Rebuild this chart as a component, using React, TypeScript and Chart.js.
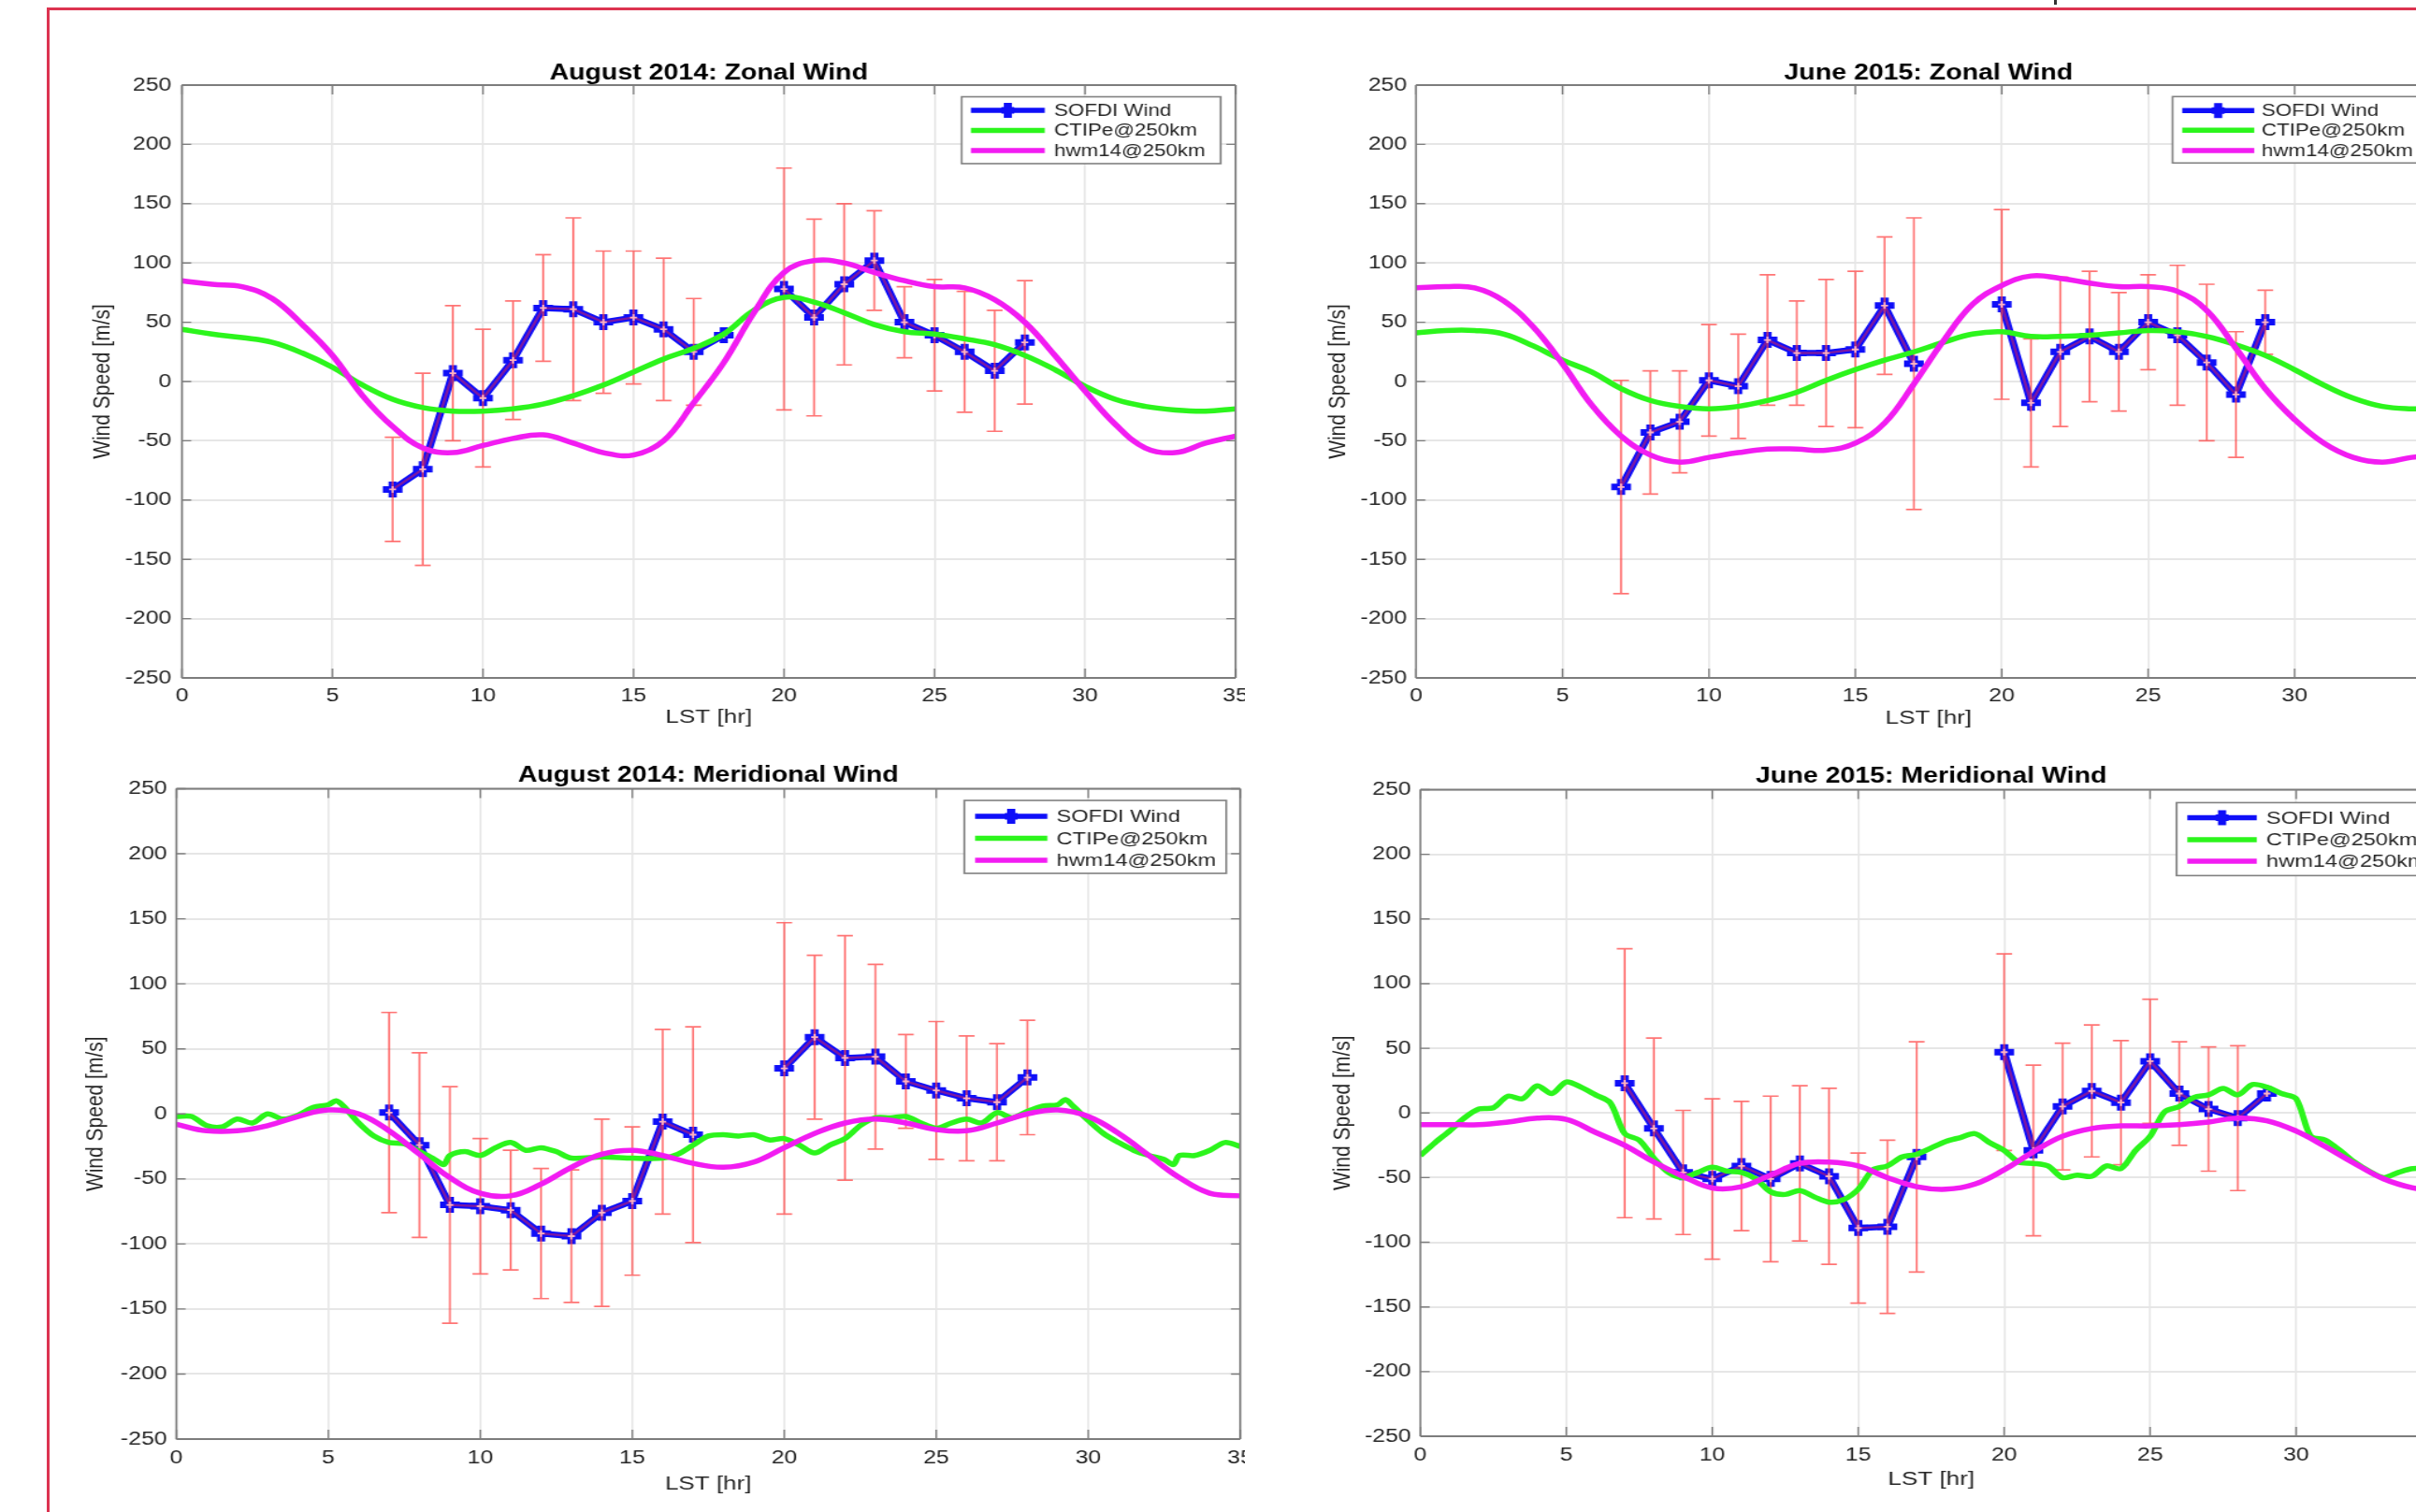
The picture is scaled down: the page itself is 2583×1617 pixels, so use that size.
import React, { useEffect, useRef } from 'react';
import { Chart, registerables } from 'chart.js';

Chart.register(...registerables);

// horizontal stretch of the original screenshot
const K = 1.24;
const FONT = "'Liberation Sans', Arial, Helvetica, sans-serif";
const BLUE = '#0f0ff8';
const GREEN = '#2cf51c';
const MAGENTA = '#f21cf2';
const ERR_COLOR = 'rgba(255,70,70,0.75)';
const GRID = '#e6e6e6';
const AXIS = '#7d7d7d';
const TEXT = '#262626';
const RED_FRAME = '#dc3350';

// ---------------- data ----------------
const HOURS = [0, 1, 2, 3, 4, 5, 6, 7, 8, 9, 10, 11, 12, 13, 14, 15, 16, 17, 18, 19, 20, 21, 22, 23, 24, 25, 26, 27, 28, 29, 30, 31, 32, 33, 34, 35];
const HALF_HOURS = [0, 0.5, 1, 1.5, 2, 2.5, 3, 3.5, 4, 4.5, 5, 5.5, 6, 6.5, 7, 7.5, 8, 8.5, 9, 9.5, 10, 10.5, 11, 11.5, 12, 12.5, 13, 13.5, 14, 14.5, 15, 15.5, 16, 16.5, 17, 17.5, 18, 18.5, 19, 19.5, 20, 20.5, 21, 21.5, 22, 22.5, 23, 23.5, 24, 24.5, 25, 25.5, 26, 26.5, 27, 27.5, 28, 28.5, 29, 29.5, 30, 30.5, 31, 31.5, 32, 32.5, 33, 33.5, 34, 34.5, 35];
const SOFDI_HOURS_AUG = [7, 8, 9, 10, 11, 12, 13, 14, 15, 16, 17, 18, 19, 20, 21, 22, 23, 24, 25, 26, 27, 28];
const SOFDI_HOURS_JUN = [7, 8, 9, 10, 11, 12, 13, 14, 15, 16, 17, 18, 19, 20, 21, 22, 23, 24, 25, 26, 27, 28, 29];

// August 2014: Zonal Wind
const AUG_ZONAL_SOFDI = [-91, -74, 7, -14, 18, 62, 61, 50, 54, 44, 25, 39, null, 78, 54, 82, 102, 50, 39, 25, 9, 33];
const AUG_ZONAL_ERR = [44, 81, 57, 58, 50, 45, 77, 60, 56, 60, 45, null, null, 102, 83, 68, 42, 30, 47, 51, 51, 52];
const AUG_ZONAL_CTIPE = [44, 40, 37, 33, 24, 12, -3, -15, -22, -25, -25, -23, -19, -12, -3, 8, 19, 28, 40, 60, 71, 67, 58, 48, 42, 40, 36, 31, 22, 10, -4, -15, -21, -24, -25, -23];
const AUG_ZONAL_HWM = [85, 82, 80, 70, 48, 22, -12, -38, -56, -60, -54, -48, -45, -52, -60, -62, -50, -18, 16, 58, 92, 102, 100, 92, 85, 80, 79, 69, 50, 22, -8, -36, -56, -60, -52, -46];

// June 2015: Zonal Wind
const JUN_ZONAL_SOFDI = [-89, -43, -34, 1, -4, 35, 24, 24, 27, 64, 15, null, null, 65, -18, 25, 38, 25, 50, 39, 16, -11, 50];
const JUN_ZONAL_ERR = [90, 52, 43, 47, 44, 55, 44, 62, 66, 58, 123, null, null, 80, 54, 63, 55, 50, 40, 59, 66, 53, 27];
const JUN_ZONAL_CTIPE = [41, 43, 43, 40, 30, 18, 8, -6, -16, -21, -23, -21, -16, -9, 1, 10, 18, 25, 33, 40, 42, 38, 38, 39, 41, 43, 42, 38, 31, 22, 10, -3, -14, -21, -23, -23];
const JUN_ZONAL_HWM = [79, 80, 79, 68, 46, 15, -20, -46, -62, -68, -64, -60, -57, -57, -58, -52, -35, -2, 34, 65, 81, 89, 87, 83, 80, 80, 76, 60, 28, -6, -32, -52, -64, -68, -64, -62];

// August 2014: Meridional Wind
const AUG_MERID_SOFDI = [1, -24, -70, -71, -74, -92, -94, -76, -67, -6, -16, null, null, 35, 59, 43, 44, 25, 18, 12, 9, 28];
const AUG_MERID_ERR = [77, 71, 91, 52, 46, 50, 51, 72, 57, 71, 83, null, null, 112, 63, 94, 71, 36, 53, 48, 45, 44];
const AUG_MERID_CTIPE_HOURS = [0, 0.5, 1, 1.5, 2, 2.5, 3, 3.5, 4, 4.5, 5, 5.25, 5.5, 6, 6.5, 7, 7.5, 8, 8.5, 8.8, 9, 9.5, 10, 10.5, 11, 11.5, 12, 12.5, 13, 14, 15, 16, 16.5, 17, 17.5, 18, 18.5, 19, 19.5, 20, 20.5, 21, 21.5, 22, 22.5, 23, 23.5, 24, 24.5, 25, 25.5, 26, 26.5, 27, 27.5, 28, 28.5, 29, 29.25, 29.5, 30, 30.5, 31, 31.5, 32, 32.5, 32.8, 33, 33.5, 34, 34.5, 35];
const AUG_MERID_CTIPE = [-2, -2, -9, -10, -4, -7, 0, -4, -1, 5, 7, 10, 6, -7, -17, -22, -23, -29, -35, -39, -32, -29, -32, -26, -22, -28, -26, -29, -34, -33, -34, -34, -31, -24, -17, -16, -17, -16, -20, -19, -24, -30, -24, -19, -9, -3, -3, -2, -7, -11, -7, -4, -7, 1, -3, 2, 6, 7, 11, 6, -5, -15, -22, -28, -32, -35, -39, -32, -32, -28, -22, -25];
const AUG_MERID_HWM = [-8, -13, -13, -9, -2, 3, 0, -13, -31, -49, -61, -63, -54, -41, -31, -28, -32, -38, -41, -37, -26, -15, -7, -4, -7, -12, -13, -7, 0, 3, -2, -15, -32, -49, -61, -63];

// June 2015: Meridional Wind
const JUN_MERID_SOFDI = [23, -12, -46, -51, -41, -51, -39, -49, -89, -88, -34, null, null, 47, -29, 5, 17, 8, 40, 15, 3, -4, 15];
const JUN_MERID_ERR = [104, 70, 48, 62, 50, 64, 60, 68, 58, 67, 89, null, null, 76, 66, 49, 51, 48, 48, 40, 48, 56, null];
const JUN_MERID_CTIPE = [-33, -23, -14, -4, 3, 4, 13, 11, 21, 15, 24, 20, 14, 8, -16, -21, -35, -46, -50, -46, -42, -45, -46, -51, -61, -63, -60, -65, -69, -67, -59, -44, -41, -34, -32, -27, -22, -19, -16, -23, -29, -38, -39, -41, -50, -48, -49, -41, -43, -29, -18, 1, 5, 12, 14, 19, 14, 22, 20, 15, 11, -18, -21, -29, -38, -45, -50, -46, -43, -44, -50];
const JUN_MERID_HWM = [-9, -9, -9, -7, -4, -5, -15, -25, -38, -49, -58, -57, -48, -39, -38, -41, -50, -57, -59, -55, -44, -30, -18, -12, -10, -10, -9, -7, -4, -6, -14, -26, -39, -51, -58, -61];

const X_TICKS_STEP = 5;
const Y_MIN = -250;
const Y_MAX = 250;
const Y_STEP = 50;
const X_MIN = 0;
const X_MAX = 35;

const LEGEND_LABELS = ['SOFDI Wind', 'CTIPe@250km', 'hwm14@250km'];

// ---------------- layout (page px) ----------------
type Num = number | null;
type PanelSpec = {
  id: string;
  title: string;
  sofdiX: number[]; sofdi: Num[]; err: Num[];
  ctipeX: number[]; ctipe: number[];
  hwmX: number[]; hwm: number[];
  clipL: number; clipW: number;
  L: number; T: number; W: number; H: number;
  area: { left: number; right: number; top: number; bottom: number }; // page coords
  titleGap: number; xTickPad: number; yTickPad: number; xTitleOff: number; yTitleOff: number;
  legend: { x: number; y: number; w: number; h: number; rows: number[]; s1: number; s2: number; tx: number; font: number };
  ctipeTension: number;
};

const PANELS: PanelSpec[] = [
  {
    id: 'tl', title: 'August 2014: Zonal Wind',
    sofdiX: SOFDI_HOURS_AUG, sofdi: AUG_ZONAL_SOFDI, err: AUG_ZONAL_ERR,
    ctipeX: HOURS, ctipe: AUG_ZONAL_CTIPE, hwmX: HOURS, hwm: AUG_ZONAL_HWM,
    clipL: 53, clipW: 1278, L: 60, T: 40, W: 1035, H: 760,
    area: { left: 194.5, right: 1324, top: 91, bottom: 725 },
    titleGap: 6, xTickPad: 7, yTickPad: 9, xTitleOff: 42, yTitleOff: 68,
    legend: { x: 1028, y: 103.5, w: 277, h: 71.5, rows: [118, 139.5, 161], s1: 1038, s2: 1117, tx: 1127, font: 18 },
    ctipeTension: 0.4,
  },
  {
    id: 'tr', title: 'June 2015: Zonal Wind',
    sofdiX: SOFDI_HOURS_JUN, sofdi: JUN_ZONAL_SOFDI, err: JUN_ZONAL_ERR,
    ctipeX: HOURS, ctipe: JUN_ZONAL_CTIPE, hwmX: HOURS, hwm: JUN_ZONAL_HWM,
    clipL: 1333, clipW: 1250, L: 1345, T: 40, W: 1038, H: 760,
    area: { left: 1514, right: 2610.6, top: 91, bottom: 725 },
    titleGap: 6, xTickPad: 7, yTickPad: 8, xTitleOff: 43, yTitleOff: 67,
    legend: { x: 2322.7, y: 103.3, w: 277, h: 71, rows: [118.3, 139.3, 161], s1: 2333, s2: 2410, tx: 2418, font: 18 },
    ctipeTension: 0.4,
  },
  {
    id: 'bl', title: 'August 2014: Meridional Wind',
    sofdiX: SOFDI_HOURS_AUG, sofdi: AUG_MERID_SOFDI, err: AUG_MERID_ERR,
    ctipeX: AUG_MERID_CTIPE_HOURS, ctipe: AUG_MERID_CTIPE, hwmX: HOURS, hwm: AUG_MERID_HWM,
    clipL: 53, clipW: 1278, L: 60, T: 790, W: 1040, H: 827,
    area: { left: 188.5, right: 1331, top: 843.5, bottom: 1539 },
    titleGap: 7.5, xTickPad: 8, yTickPad: 8, xTitleOff: 48, yTitleOff: 69,
    legend: { x: 1031, y: 856, w: 280, h: 78, rows: [873, 896.4, 920], s1: 1042.5, s2: 1119.7, tx: 1129.6, font: 19 },
    ctipeTension: 0.3,
  },
  {
    id: 'br', title: 'June 2015: Meridional Wind',
    sofdiX: SOFDI_HOURS_JUN, sofdi: JUN_MERID_SOFDI, err: JUN_MERID_ERR,
    ctipeX: HALF_HOURS, ctipe: JUN_MERID_CTIPE, hwmX: HOURS, hwm: JUN_MERID_HWM,
    clipL: 1333, clipW: 1250, L: 1345, T: 790, W: 1040, H: 827,
    area: { left: 1518.5, right: 2614, top: 844.5, bottom: 1536 },
    titleGap: 7.5, xTickPad: 8, yTickPad: 8, xTitleOff: 46, yTitleOff: 67,
    legend: { x: 2327, y: 858.4, w: 280, h: 78, rows: [874.5, 898, 921], s1: 2338.5, s2: 2412.8, tx: 2423, font: 19 },
    ctipeTension: 0.3,
  },
];

function WindPanel({ p }: { p: PanelSpec }) {
  const ref = useRef<HTMLCanvasElement>(null);

  useEffect(() => {
    const canvas = ref.current;
    if (!canvas) return;
    const cx = (px: number) => (px - p.L) / K;
    const cy = (py: number) => py - p.T;
    const toXY = (xs: number[], ys: Num[]) => xs.map((x, i) => ({ x, y: ys[i] }));

    const decor = {
      id: 'decor',
      afterDatasetDraw(chart: any, args: any) {
        if (args.index !== 2) return;
        const ctx = chart.ctx as CanvasRenderingContext2D;
        const xs = chart.scales.x;
        const ys = chart.scales.y;
        ctx.save();
        // error bars
        ctx.strokeStyle = ERR_COLOR;
        ctx.lineWidth = 1.7;
        const cap = 6.8;
        p.sofdiX.forEach((h, i) => {
          const v = p.sofdi[i];
          const e = p.err[i];
          if (v == null || e == null) return;
          const px = xs.getPixelForValue(h);
          const t = ys.getPixelForValue(v + e);
          const b = ys.getPixelForValue(v - e);
          ctx.beginPath();
          ctx.moveTo(px, t); ctx.lineTo(px, b);
          ctx.moveTo(px - cap, t); ctx.lineTo(px + cap, t);
          ctx.moveTo(px - cap, b); ctx.lineTo(px + cap, b);
          ctx.stroke();
        });
        // thin red connecting line of the errorbar series
        ctx.strokeStyle = 'rgba(190,30,110,0.62)';
        ctx.lineWidth = 2.4;
        ctx.beginPath();
        let pen = false;
        p.sofdiX.forEach((h, i) => {
          const v = p.sofdi[i];
          if (v == null) { pen = false; return; }
          const px = xs.getPixelForValue(h);
          const py = ys.getPixelForValue(v);
          if (pen) ctx.lineTo(px, py); else ctx.moveTo(px, py);
          pen = true;
        });
        ctx.stroke();
        // light marker centres
        ctx.strokeStyle = '#ffb3c1';
        ctx.lineWidth = 1.8;
        p.sofdiX.forEach((h, i) => {
          const v = p.sofdi[i];
          if (v == null) return;
          const px = xs.getPixelForValue(h);
          const py = ys.getPixelForValue(v);
          ctx.beginPath();
          ctx.moveTo(px - 3, py); ctx.lineTo(px + 3, py);
          ctx.moveTo(px, py - 3.5); ctx.lineTo(px, py + 3.5);
          ctx.stroke();
        });
        ctx.restore();
      },
      afterDraw(chart: any) {
        const ctx = chart.ctx as CanvasRenderingContext2D;
        const a = chart.chartArea;
        const xs = chart.scales.x;
        const ys = chart.scales.y;
        ctx.save();
        // axes box
        ctx.strokeStyle = AXIS;
        ctx.lineWidth = 2;
        ctx.beginPath();
        ctx.moveTo(a.left, a.top); ctx.lineTo(a.right, a.top);
        ctx.moveTo(a.left, a.bottom); ctx.lineTo(a.right, a.bottom);
        ctx.stroke();
        ctx.lineWidth = 1.6;
        ctx.beginPath();
        ctx.moveTo(a.left, a.top); ctx.lineTo(a.left, a.bottom);
        ctx.moveTo(a.right, a.top); ctx.lineTo(a.right, a.bottom);
        ctx.stroke();
        // inward tick marks
        ctx.lineWidth = 1.4;
        ctx.beginPath();
        xs.ticks.forEach((t: any) => {
          const px = xs.getPixelForValue(t.value);
          ctx.moveTo(px, a.bottom); ctx.lineTo(px, a.bottom - 10);
          ctx.moveTo(px, a.top); ctx.lineTo(px, a.top + 10);
        });
        ys.ticks.forEach((t: any) => {
          const py = ys.getPixelForValue(t.value);
          ctx.moveTo(a.left, py); ctx.lineTo(a.left + 8, py);
          ctx.moveTo(a.right, py); ctx.lineTo(a.right - 8, py);
        });
        ctx.stroke();

        // title
        ctx.fillStyle = '#000';
        ctx.font = `bold 23px ${FONT}`;
        ctx.textAlign = 'center';
        ctx.textBaseline = 'alphabetic';
        ctx.fillText(p.title, (a.left + a.right) / 2, a.top - p.titleGap);
        // axis titles
        ctx.fillStyle = TEXT;
        ctx.font = `21px ${FONT}`;
        ctx.textBaseline = 'middle';
        ctx.fillText('LST [hr]', (a.left + a.right) / 2, a.bottom + p.xTitleOff);
        ctx.save();
        ctx.translate(a.left - p.yTitleOff, (a.top + a.bottom) / 2);
        ctx.rotate(-Math.PI / 2);
        ctx.fillText('Wind Speed [m/s]', 0, 0);
        ctx.restore();

        // legend
        const lg = p.legend;
        const bx = cx(lg.x);
        const by = cy(lg.y);
        const bw = lg.w / K;
        ctx.fillStyle = '#fff';
        ctx.fillRect(bx, by, bw, lg.h);
        ctx.strokeStyle = '#808080';
        ctx.lineWidth = 1.6;
        ctx.strokeRect(bx, by, bw, lg.h);
        const colors = [BLUE, GREEN, MAGENTA];
        const s1 = cx(lg.s1);
        const s2 = cx(lg.s2);
        LEGEND_LABELS.forEach((label, i) => {
          const ry = cy(lg.rows[i]);
          ctx.strokeStyle = colors[i];
          ctx.lineWidth = 5.5;
          ctx.beginPath();
          ctx.moveTo(s1, ry); ctx.lineTo(s2, ry);
          ctx.stroke();
          if (i === 0) {
            const mx = (s1 + s2) / 2;
            ctx.lineWidth = 7;
            ctx.beginPath();
            ctx.moveTo(mx, ry - 8); ctx.lineTo(mx, ry + 8);
            ctx.moveTo(mx - 5.5, ry); ctx.lineTo(mx + 5.5, ry);
            ctx.stroke();
          }
          ctx.fillStyle = TEXT;
          ctx.font = `${lg.font}px ${FONT}`;
          ctx.textAlign = 'left';
          ctx.textBaseline = 'middle';
          ctx.fillText(label, cx(lg.tx), ry + 1);
        });
        ctx.restore();
      },
    };

    const areaL = cx(p.area.left);
    const areaR = cx(p.area.right);
    const areaT = cy(p.area.top);
    const areaB = cy(p.area.bottom);

    const chart = new Chart(canvas, {
      type: 'line',
      data: {
        datasets: [
          {
            label: 'hwm14@250km', data: toXY(p.hwmX, p.hwm) as any,
            borderColor: MAGENTA, backgroundColor: MAGENTA, borderWidth: 5.5,
            pointRadius: 0, tension: 0.4, fill: false, order: 0,
          },
          {
            label: 'CTIPe@250km', data: toXY(p.ctipeX, p.ctipe) as any,
            borderColor: GREEN, backgroundColor: GREEN, borderWidth: 5.5,
            pointRadius: 0, tension: p.ctipeTension, fill: false, order: 1,
          },
          {
            label: 'SOFDI Wind', data: toXY(p.sofdiX, p.sofdi) as any,
            borderColor: BLUE, backgroundColor: BLUE, borderWidth: 6.5,
            pointStyle: 'cross', pointRadius: 8.5, pointBorderWidth: 7,
            pointBorderColor: BLUE, pointBackgroundColor: BLUE,
            tension: 0, spanGaps: false, fill: false, order: 2,
          },
        ],
      },
      options: {
        animation: false,
        responsive: true,
        maintainAspectRatio: false,
        events: [],
        layout: {
          padding: { left: 0, right: p.W - areaR, top: areaT, bottom: 0 },
        },
        plugins: {
          legend: { display: false },
          title: { display: false },
          tooltip: { enabled: false },
        },
        scales: {
          x: {
            type: 'linear', min: X_MIN, max: X_MAX,
            ticks: {
              stepSize: X_TICKS_STEP, padding: p.xTickPad, color: TEXT,
              font: { family: FONT, size: 20 }, maxRotation: 0, autoSkip: false,
            },
            grid: { color: GRID, lineWidth: 1.6, drawTicks: false },
            border: { display: false },
            afterFit: (s: any) => { s.height = p.H - areaB; },
          },
          y: {
            type: 'linear', min: Y_MIN, max: Y_MAX,
            ticks: {
              stepSize: Y_STEP, padding: p.yTickPad, color: TEXT,
              font: { family: FONT, size: 20 }, autoSkip: false,
            },
            grid: { color: GRID, lineWidth: 2, drawTicks: false },
            border: { display: false },
            afterFit: (s: any) => { s.width = areaL; },
          },
        },
      },
      plugins: [decor],
    });
    return () => chart.destroy();
  }, [p]);

  return (
    <div style={{ position: 'absolute', left: p.clipL, top: p.T, width: p.clipW, height: p.H, overflow: 'hidden' }}>
      <div
        style={{
          position: 'absolute', left: p.L - p.clipL, top: 0, width: p.W, height: p.H,
          transform: `scaleX(${K})`, transformOrigin: '0 0',
        }}
      >
        <canvas ref={ref} />
      </div>
    </div>
  );
}

export default function App() {
  return (
    <div style={{ position: 'fixed', left: 0, top: 0, width: 2583, height: 1617, overflow: 'hidden', background: '#fff' }}>
      <div style={{ position: 'absolute', left: 50, top: 8, width: 2533, height: 3, background: RED_FRAME }} />
      <div style={{ position: 'absolute', left: 50, top: 8, width: 3, height: 1609, background: RED_FRAME }} />
      <div style={{ position: 'absolute', left: 2196, top: 0, width: 3, height: 5, background: '#333' }} />
      {PANELS.map((p) => (
        <WindPanel key={p.id} p={p} />
      ))}
    </div>
  );
}
